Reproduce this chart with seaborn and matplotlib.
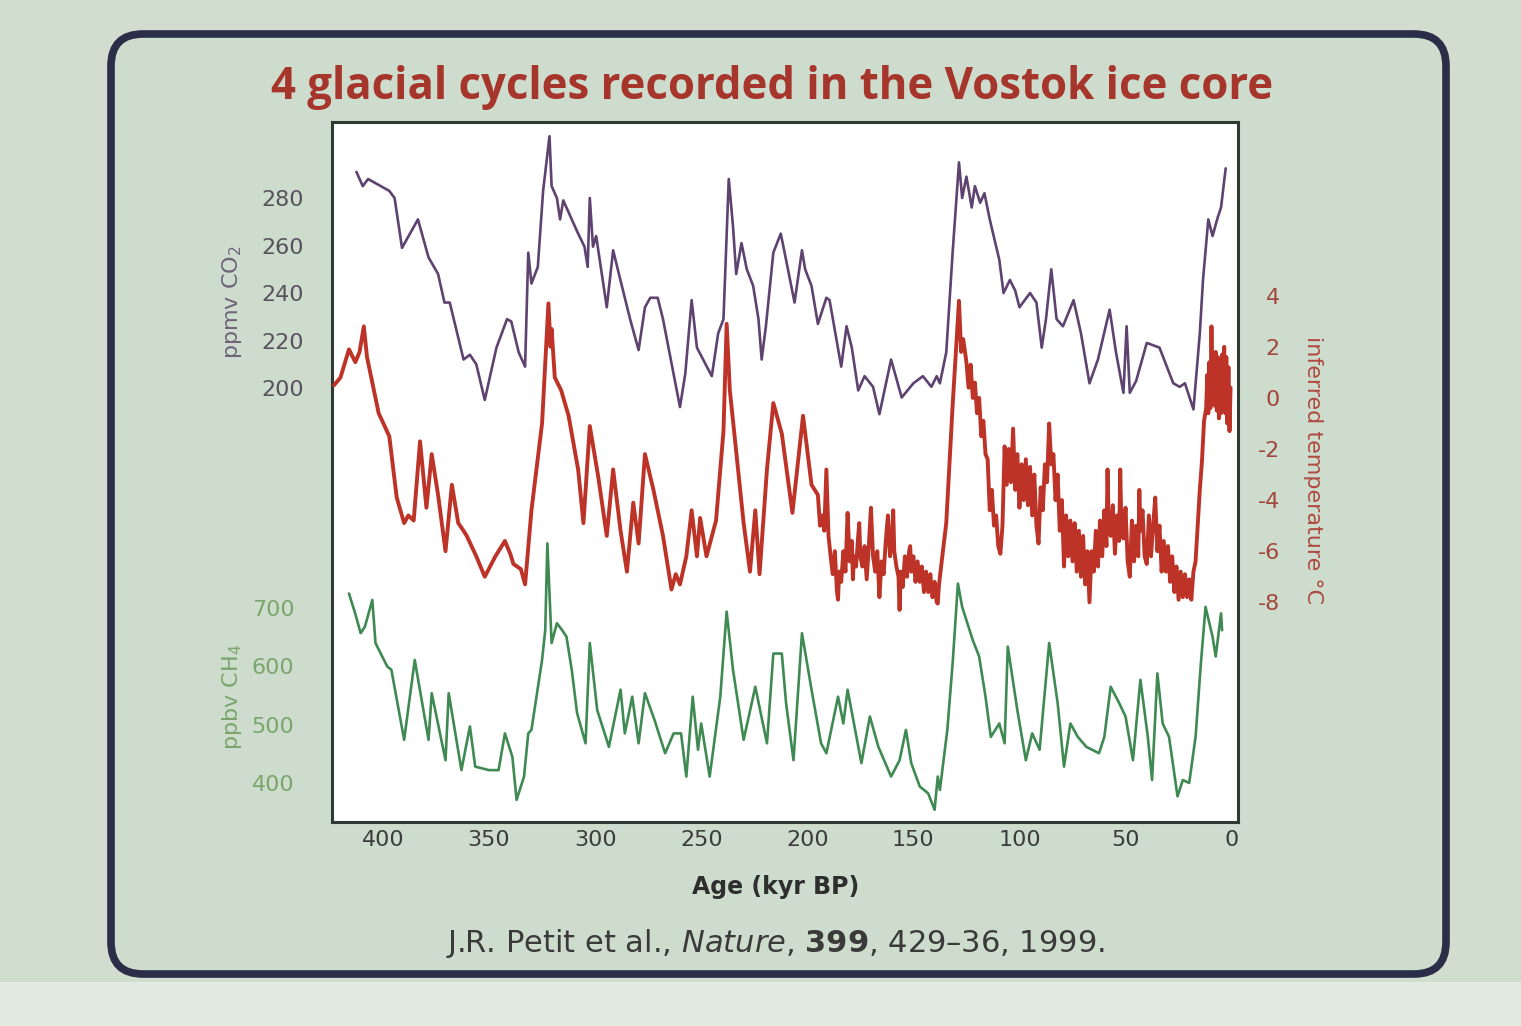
import matplotlib
matplotlib.use("Agg")
import matplotlib.pyplot as plt
import numpy as np
import pandas as pd
import seaborn as sns
from matplotlib.patches import FancyBboxPatch, Rectangle

# ---------------- data ----------------
co2_age = [412.5, 409.5, 407, 397, 394.5, 391, 383.5, 378.5, 374, 371, 368.5, 362, 359, 356, 352,
           346.5, 341.5, 339.5, 336, 333, 331.5, 330, 327, 324.5, 321.5, 320.5, 318, 316.5, 315,
           308.5, 305, 303.5, 302.5, 301, 299.5, 294.5, 291.5, 288.5, 283.5, 279.5, 276.5, 274,
           270.5, 268, 263, 260, 257.5, 254.5, 252, 245, 242, 239.5, 237, 235, 233.5, 231, 228.5,
           225.5, 223, 221.5, 219.5, 216, 212.5, 210, 206, 202.5, 201, 198, 195, 191, 189.5, 184,
           181.5, 179, 176, 173, 169, 166, 160.5, 155.5, 150, 145.5, 141.5, 139, 137.5, 134.5,
           131.5, 128.5, 127, 125, 122.5, 121, 118.5, 116.5, 114, 109.5, 107.5, 104.5, 102, 100,
           95, 92, 89.5, 87.5, 85, 82.5, 79.5, 74.5, 71, 67, 63, 57.5, 54.5, 51, 49.5, 48, 45, 40,
           34, 27.5, 24.5, 22, 18, 15, 13.5, 11, 9, 6.5, 5, 2.8]
co2_ppmv = [291, 285, 288, 283, 280, 259, 271, 255, 248, 236, 236, 212, 214, 210, 195,
            217, 229, 228, 215, 209, 257, 244, 251, 283, 306, 285, 280, 271, 279,
            266, 259.5, 251, 280, 259.5, 264, 234, 258, 247, 229, 216, 234, 238,
            238, 229, 206, 192, 206, 237, 217, 205, 223, 229, 288, 268, 248, 261, 250,
            243, 229, 212, 226, 257, 265, 254, 236, 258, 250, 243, 227, 238, 237, 209,
            226, 217, 199, 205, 200.5, 189, 212, 196, 202, 205, 200.5, 205, 202, 215,
            257, 295, 280, 289, 276, 285, 278, 282, 271, 254, 240, 245.5, 241, 234,
            240, 236, 217, 229, 250, 229, 226, 237, 223, 202, 212, 233, 215, 198, 226, 198, 203, 219,
            217, 202, 200.5, 202, 191, 223, 245.5, 271, 264, 272, 276, 292.5]

temp_age = [423, 420, 416, 413, 411, 409, 407.5, 402, 397, 393.5, 390, 388, 385.5, 382.5, 379.5,
            377, 374, 370.5, 367.5, 364.5, 362, 360.5, 356, 352, 347, 342.5, 340, 338.5, 335, 333,
            330, 325, 322, 321, 320.5, 319, 316, 312.5, 308, 305.5, 302.5, 298.5, 294.5, 291.5,
            288, 285, 282, 279.5, 276.5, 272.5, 268, 264, 262, 260, 257, 254.5, 252, 250.5, 247.5,
            243, 239.5, 238, 236.5, 234, 230, 227, 224.5, 222.5, 219, 216, 212, 207, 202, 198,
            195, 194, 193, 192, 191, 190, 189, 188, 187, 186, 185.5, 185, 184, 183, 182, 181, 180,
            179, 178.5, 178, 177, 176, 175.5, 175, 174, 173, 172, 171, 170, 169, 168, 167, 166,
            165, 164, 163, 162, 161, 160, 159.5, 159, 158, 157, 156.5, 156, 155, 154, 153, 152,
            151.5, 151, 150, 149, 148, 147, 146, 145, 144, 143, 142, 141, 140, 139, 138.5, 138,
            137.5, 134.5, 131.5, 128.5, 127.5, 126.5,
            125, 124, 123, 122, 121, 120, 119, 118, 117, 116, 115, 114, 113, 112, 111, 110, 109,
            108, 107, 106, 105, 104, 103, 102, 101, 100, 99, 98, 97, 96, 95, 94, 93, 92, 91, 90,
            89, 88, 87, 86, 85, 84, 83, 82, 81, 80, 79, 78, 77, 76, 75, 74, 73, 72, 71, 70, 69,
            68, 67, 66, 65, 64, 63, 62, 61, 60, 59, 58.5, 58, 57, 56, 55, 54, 53, 52.5, 52, 51,
            50, 49, 48, 47, 46, 45, 44, 43.5, 43, 42, 41, 40, 39, 38, 37, 36, 35, 34, 33, 32, 31,
            30, 29, 28, 27, 26, 25, 24, 23, 22, 21, 20, 19, 18, 17, 16, 15, 14, 13, 12, 11.5, 11,
            10.5, 10, 9.5, 9, 8.5, 8, 7.5, 7, 6.5, 6, 5.5, 5, 4.5, 4, 3.5, 3, 2.5, 2, 1.5, 1, 0.5]
temp_c = [0.5, 0.8, 1.9, 1.4, 1.8, 2.8, 1.6, -0.6, -1.5, -3.9, -4.9, -4.6, -4.8, -1.7, -4.3,
          -2.2, -3.8, -6.0, -3.4, -4.9, -5.2, -5.4, -6.2, -7.0, -6.2, -5.6, -6.1, -6.5, -6.7, -7.3,
          -4.4, -1.0, 3.7, 2.0, 2.7, 0.8, 0.3, -0.7, -2.8, -4.9, -1.1, -3.1, -5.4, -2.8,
          -5.2, -6.8, -4.1, -5.7, -2.2, -3.6, -5.4, -7.5, -6.9, -7.3, -6.2, -4.4, -6.2, -4.7, -6.2,
          -4.8, -1.3, 2.9, 0.3, -1.7, -4.9, -6.8, -4.4, -6.9, -2.8, -0.2, -1.4, -4.5, -0.7, -3.4,
          -3.8, -5.0, -4.6, -5.2, -2.8, -5.4, -6.2, -6.9, -6.0, -7.6, -7.9, -6.8, -7.2, -6.0, -6.8, -4.5, -6.4,
          -5.6, -7.1, -6.2, -6.6, -5.4, -4.9, -6.2, -6.6, -5.8, -7.1, -5.8, -4.3, -6.2, -6.8, -6.0, -7.8,
          -6.4, -6.9, -5.6, -4.6, -6.2, -5.4, -4.4, -6.0, -6.6, -7.0, -8.3, -6.8, -7.4, -6.2, -7.0, -6.0,
          -5.8, -6.8, -6.2, -7.2, -6.4, -7.2, -6.6, -7.6, -6.8, -7.6, -6.9, -7.8, -7.2, -8.0, -8.05, -7.4,
          -7.0, -4.9, -0.3, 3.8, 1.8, 2.3,
          1.4, 0.4, 1.3, 0.0, 0.6, -0.6, 0.0, -1.5, -0.9, -2.2, -2.4, -4.4, -3.6, -5.0, -4.6, -5.8, -6.1,
          -5.0, -1.9, -3.4, -2.0, -3.3, -1.2, -3.6, -2.2, -4.3, -2.6, -4.0, -2.4, -4.2, -2.7, -4.6, -3.0, -5.0, -5.7, -3.5,
          -4.4, -2.6, -3.3, -1.0, -2.6, -2.2, -4.0, -3.0, -5.2, -4.0, -6.6, -4.6, -6.2, -4.8, -6.4, -4.9, -6.8, -5.2, -7.0, -5.4, -7.3,
          -6.0, -8.0, -6.0, -6.8, -5.2, -6.6, -4.8, -6.2, -4.4, -5.8, -2.8, -4.6, -5.4, -4.2, -6.1, -4.6, -5.6, -2.8, -4.8, -5.5,
          -4.3, -6.4, -7.0, -4.8, -6.4, -5.0, -6.2, -3.6, -5.2, -4.4, -6.2, -6.5, -4.6, -6.2, -5.0, -3.9, -6.0, -5.0, -6.8, -5.6, -6.8,
          -5.8, -7.2, -6.2, -7.6, -6.6, -7.9, -6.8, -7.8, -6.9, -7.8, -7.1, -7.9, -6.8, -6.4, -5.0, -3.6, -2.5, -0.9, -0.4, 0.9, -0.6,
          1.4, -0.4, 2.8, 0.0, 1.6, -0.3, 1.8, -0.5, 1.6, -0.8, 1.5, -0.6, 1.7, -0.2, 2.0, -0.6, 1.6, -1.0, 1.2, -1.3, 0.4]

ch4_age = [416, 413, 410.5, 408.5, 405, 403.5, 398, 396, 390, 385, 378.5, 377, 370.5, 369, 363, 359,
           356.5, 350, 345.5, 342.5, 339, 337, 333.5, 331.5, 330, 325, 323.5, 322.5, 320.5, 318,
           315.5, 313.5, 311, 308.5, 304.5, 302.5, 299, 293.5, 288, 286, 282.5, 279.5, 276.5, 272,
           267, 263, 259.5, 257, 254, 251.5, 250, 246, 241, 238, 235, 230, 224.5, 219, 216, 212,
           210, 206.5, 202.5, 198, 193.5, 191, 185.5, 183, 181, 174.5, 170.5, 166.5, 160.5, 156.5,
           153.5, 151, 147, 143, 140, 138.5, 137.5, 134, 131.5, 129, 127, 122, 119, 116, 113.5,
           109.5, 107, 105.5, 101, 97, 94, 90.5, 86, 82, 79, 76, 72.5, 68.5, 62.5, 60, 57, 53, 50,
           46.5, 43, 39.5, 37.5, 35, 32.5, 29.5, 25.5, 23, 20, 17, 14.5, 12.3, 9, 7.5, 5, 4.5]
ch4_ppbv = [725, 690, 657, 668, 714, 640, 600, 594, 474, 611, 474, 554, 439, 554, 422, 497,
            428, 422, 422, 485, 445, 371, 411, 485, 491, 611, 662, 811, 640, 674,
            662, 651, 594, 520, 468, 640, 525, 462, 560, 485, 548, 468, 554, 508,
            451, 485, 485, 411, 548, 457, 502, 411, 548, 694, 594, 474, 565, 468, 622, 622,
            537, 439, 657, 560, 468, 451, 548, 502, 560, 434, 514, 462, 411, 439,
            491, 434, 394, 382, 354, 411, 388, 491, 605, 742, 702, 645, 617, 548, 479,
            502, 468, 634, 525, 439, 485, 457, 640, 537, 428, 502, 479, 462, 451, 479, 565, 537, 514,
            439, 577, 479, 405, 588, 502, 479, 377, 405, 400, 479, 605, 702, 651, 617, 691, 662]

age_ticks = [400, 350, 300, 250, 200, 150, 100, 50, 0]
co2_ticks = [200, 220, 240, 260, 280]
temp_ticks = [-8, -6, -4, -2, 0, 2, 4]
ch4_ticks = [400, 500, 600, 700]

title = "4 glacial cycles recorded in the Vostok ice core"

# ---------------- style ----------------
W, H = 1521, 1026
sns.set_theme(style="white")
plt.rcParams["font.family"] = ["DejaVu Sans"]
narrow = ["DejaVu Sans"]

BG = "#d0ddcf"
CO2_C = "#5e4270"
T_C = "#bd3327"
CH4_C = "#3f8a52"

fig = plt.figure(figsize=(W / 100, H / 100), dpi=100)
fig.patch.set_facecolor(BG)

# decoration layer in pixel coordinates
deco = fig.add_axes([0, 0, 1, 1], zorder=0)
deco.set_xlim(0, W)
deco.set_ylim(H, 0)
deco.axis("off")
deco.add_patch(Rectangle((0, 982), W, 50, facecolor="#e3eae2", edgecolor="none"))
deco.add_patch(FancyBboxPatch((111, 34), 1335, 940,
                              boxstyle="round,pad=0,rounding_size=32",
                              facecolor="#cedccd", edgecolor="#2b2e48", linewidth=5.5))

pos = [332 / W, 1 - 822 / H, (1238 - 332) / W, (822 - 122) / H]
ax = fig.add_axes(pos, zorder=2)
ax.set_facecolor("white")
ax.set_xlim(424, -3)
ax.set_ylim(0, 1)
ax.set_yticks([])
ax.set_xticks(age_ticks)
ax.set_xticklabels([str(t) for t in age_ticks], family=narrow, fontsize=16, color="#3c3c3c")
ax.tick_params(axis="x", length=0, pad=6)
for s in ax.spines.values():
    s.set_color("#2f3a33")
    s.set_linewidth(2.2)
    s.set_visible(True)


def overlay(ylim):
    a = fig.add_axes(pos, sharex=ax, zorder=3)
    a.set_facecolor("none")
    for s in a.spines.values():
        s.set_visible(False)
    a.set_ylim(*ylim)
    a.tick_params(axis="x", bottom=False, labelbottom=False, top=False)
    a.tick_params(axis="y", length=0)
    return a


ax_co2 = overlay((17.3, 312))
ax_t = overlay((-16.6, 10.8))
ax_ch4 = overlay((333, 1534))

sns.lineplot(x=co2_age, y=co2_ppmv, ax=ax_co2, color=CO2_C, linewidth=1.9,
             estimator=None, sort=False)
sns.lineplot(x=temp_age, y=temp_c, ax=ax_t, color=T_C, linewidth=2.8,
             estimator=None, sort=False)
sns.lineplot(x=ch4_age, y=ch4_ppbv, ax=ax_ch4, color=CH4_C, linewidth=1.9,
             estimator=None, sort=False)
ax.set_xlim(424, -3)

for a in (ax_co2, ax_t, ax_ch4):
    a.set_xlabel("")
    a.set_ylabel("")

ax_co2.set_yticks(co2_ticks)
ax_co2.set_yticklabels([str(t) for t in co2_ticks], family=narrow, fontsize=16, color="#58525e")
ax_co2.tick_params(axis="y", left=False, labelleft=True, pad=20)

ax_ch4.set_yticks(ch4_ticks)
ax_ch4.set_yticklabels([str(t) for t in ch4_ticks], family=narrow, fontsize=16, color="#7aa66c")
ax_ch4.tick_params(axis="y", left=False, labelleft=True, pad=27)

ax_t.yaxis.tick_right()
ax_t.set_yticks(temp_ticks)
ax_t.set_yticklabels([str(t) for t in temp_ticks], family=narrow, fontsize=16, color="#a3473c",
                     ha="right")
ax_t.tick_params(axis="y", right=False, labelright=True, left=False, labelleft=False, pad=30)

# texts
fig.text(772 / W, 1 - 87 / H, title, ha="center", va="center", fontsize=31.5,
         fontweight="bold", color="#a6352c", family=["Open Sans", "DejaVu Sans"])
fig.text(776 / W, 1 - 887 / H, "Age (kyr BP)", ha="center", va="center", fontsize=17,
         fontweight="bold", color="#2e2e2e", family=narrow)
fig.text(775 / W, 1 - 944 / H,
         r"J.R. Petit et al., $\mathit{Nature}$, $\mathbf{399}$, 429–36, 1999.",
         ha="center", va="center", fontsize=22, color="#3a3a3a", family=narrow)
fig.text(232 / W, 1 - 302 / H, r"ppmv CO$_2$", ha="center", va="center", rotation=90,
         fontsize=16, color="#6f6479", family=narrow)
fig.text(232 / W, 1 - 697 / H, r"ppbv CH$_4$", ha="center", va="center", rotation=90,
         fontsize=16, color="#7aa66c", family=narrow)
fig.text(1313 / W, 1 - 470 / H, "inferred temperature °C", ha="center", va="center",
         rotation=270, fontsize=16, color="#ae4b40", family=narrow)

fig.savefig("out.png", dpi=100, facecolor=fig.get_facecolor())
